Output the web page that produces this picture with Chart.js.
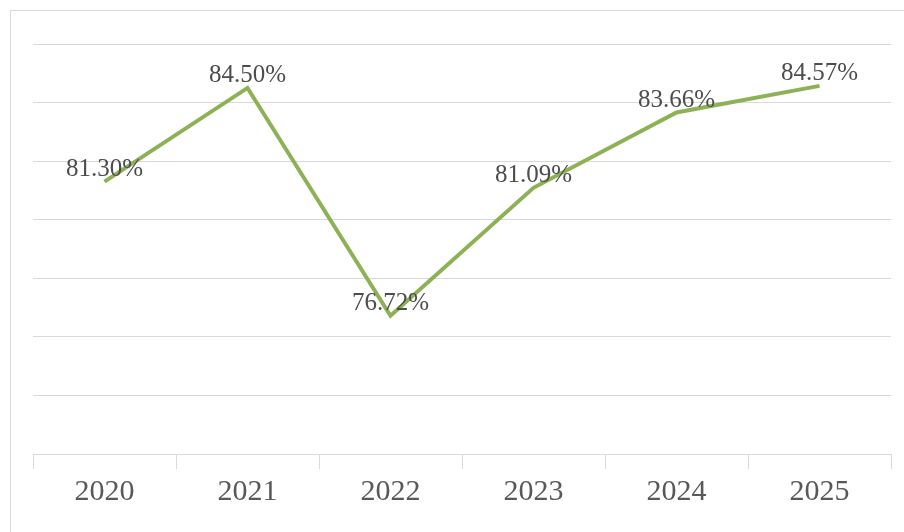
<!DOCTYPE html>
<html>
<head>
<meta charset="utf-8">
<script src="https://cdn.jsdelivr.net/npm/chart.js@4/dist/chart.umd.min.js"></script>
<style>
body{margin:0;background:#fff;overflow:hidden}
#wrap{position:relative;width:904px;height:532px}
#frame{position:absolute;left:10px;top:10px;width:910px;height:540px;border:1px solid #d9d9d9;box-sizing:border-box}
canvas{position:absolute;left:0;top:0}
</style>
</head>
<body>
<div id="wrap"><div id="frame"></div><canvas id="Chart1HTML" width="904" height="532"></canvas></div>
<script>
// data
const YEARS=['2020','2021','2022','2023','2024','2025'];
const RATES=[81.30,84.50,76.72,81.09,83.66,84.57];
const Y_MIN=72,Y_MAX=86,Y_STEP=2;

const LINE_COLOUR='#8db255';
const GRID_COLOUR='#d9d9d9';

// value labels over each point
const valueLabelsPlugin={
id:'valueLabels',
afterDatasetsDraw(chart){
const ctx=chart.ctx;
const meta=chart.getDatasetMeta(0);
ctx.save();
ctx.font='25px "Liberation Serif", "Times New Roman", serif';
ctx.fillStyle='#4d4d4d';
ctx.textAlign='center';
ctx.textBaseline='alphabetic';
meta.data.forEach((p,i)=>{
ctx.fillText(RATES[i].toFixed(2)+'%',p.x,p.y-6);
});
ctx.restore();
}
};

let Chart1;
function LoadC1(){
Chart1=new Chart(
document.getElementById('Chart1HTML'),
{
type:'line',
data:{
labels:YEARS,
datasets:[{
data:RATES,
borderColor:LINE_COLOUR,
borderWidth:4,
pointRadius:0,
tension:0,
fill:false
}]
},
options:{
responsive:false,
animation:false,
layout:{padding:{left:33,right:13,top:44,bottom:17}},
plugins:{legend:{display:false},tooltip:{enabled:false}},
scales:{
x:{
offset:true,
grid:{offset:true,drawOnChartArea:false,drawTicks:true,tickLength:15,color:GRID_COLOUR},
border:{display:true,color:GRID_COLOUR,width:1},
ticks:{color:'#595959',padding:5,font:{family:'"Liberation Serif", "Times New Roman", serif',size:30}}
},
y:{
min:Y_MIN,max:Y_MAX,
grid:{color:GRID_COLOUR,drawTicks:false},
border:{display:false},
ticks:{display:false,stepSize:Y_STEP}
}
}
},
plugins:[valueLabelsPlugin]
}
);
}
LoadC1();
</script>
</body>
</html>
